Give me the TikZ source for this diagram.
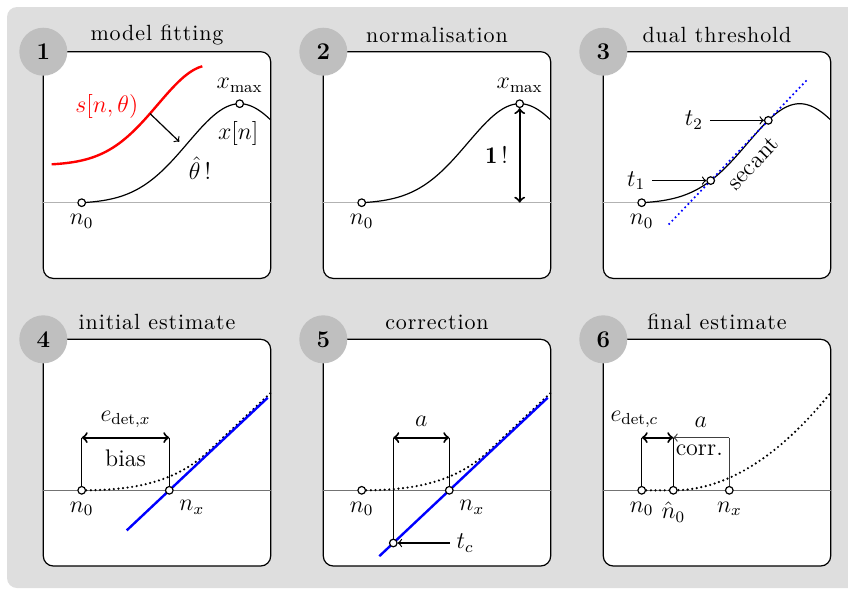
\documentclass[tikz,border=0pt]{standalone}
\usepackage{fontspec}
\usetikzlibrary{positioning, calc}
\newfontfamily\titlefont{lmroman10-regular.otf}[LetterSpace=4]

\tikzset{declare function={pulse(\u)=99*(exp(0-((\u-158)/73.54)*((\u-158)/73.54))-0.0099)/0.9901;}}

\newcommand\panelbase[1]{%
  \draw[panelbox] (0,0) rectangle (227.4,226.7);
  \draw[axis, #1] (0,151) -- (227.4,151);}
\newcommand\paneltop[3]{%
  \node[badge] (num#1) at (0,0) {#2};
  \node[heading] (title#1) at (113.7,-17) {#3};}

\begin{document}
\begin{tikzpicture}[x=0.5pt, y=-0.5pt,
    every node/.style={font=\fontsize{12}{14}\selectfont},
    backdrop/.style={fill=black!13, rounded corners=5pt},
    panelbox/.style={draw, fill=white, line width=0.6pt, rounded corners=5pt},
    axis/.style={line width=0.5pt},
    badge/.style={circle, fill=black!25, minimum size=24pt, inner sep=0pt, font=\fontsize{12}{14}\selectfont\bfseries},
    heading/.style={font=\titlefont\fontsize{11}{13}\selectfont},
    dot/.style={circle, draw, fill=white, line width=0.6pt, minimum size=3.8pt, inner sep=0pt},
    signal/.style={line width=0.6pt},
    model/.style={red, line width=1.2pt},
    trace/.style={line width=1.2pt, dash pattern=on 0pt off 2.3pt, line cap=round},
    secant/.style={blue, line width=1.2pt, dash pattern=on 0pt off 2.3pt, line cap=round},
    fitline/.style={blue, line width=1.2pt},
    stem/.style={line width=0.6pt},
    span/.style={<->, line width=1pt},
    pointer/.style={->, line width=0.6pt},
    corr/.style={->, line width=0.6pt, black!75}
]
    \useasboundingbox (0,0) rectangle (848,591);
    \begin{scope}
        \clip (0,0) rectangle (848,591);
        \fill[backdrop] (7,7) rectangle (870,588);
    \end{scope}

    \begin{scope}[shift={(43.3,51.7)}]
        \panelbase{black!30}
        \draw[signal] plot[domain=0:189, samples=90] ({38.4+\x},{151-pulse(\x)});
        \draw[model] plot[domain=0:150.6, samples=80] ({8.4+\x},{112.6-pulse(\x)});
        \node[dot] (p1n0) at (38.4,151) {};
        \node[dot] (p1max) at (196.4,52) {};
        \node[below=0pt of p1n0] (p1n0lab) {$n_0$};
        \node[above=0pt of p1max] (p1maxlab) {$x_{\max}$};
        \node[text=red] (p1slab) at (63.4,55) {$s[n,\theta)$};
        \node (p1xlab) at (195,81.7) {$x[n]$};
        \node (p1thlab) at (156.7,116.7) {$\hat{\theta}\,!$};
        \coordinate (p1from) at ({8.4+98.3},{112.6-pulse(98.3)});
        \coordinate (p1to) at (136,90);
        \draw[pointer] (p1from) -- (p1to);
        \paneltop{1}{1}{model fitting}
    \end{scope}

    \begin{scope}[shift={(323.3,51.7)}]
        \panelbase{black!30}
        \draw[signal] plot[domain=0:189, samples=90] ({38.4+\x},{151-pulse(\x)});
        \coordinate (p2foot) at (196.4,151);
        \node[dot] (p2n0) at (38.4,151) {};
        \node[dot] (p2max) at (196.4,52) {};
        \node[below=0pt of p2n0] (p2n0lab) {$n_0$};
        \node[above=0pt of p2max] (p2maxlab) {$x_{\max}$};
        \draw[span] (p2max) -- (p2foot);
        \node (p2one) at (173.4,103.3) {$\mathbf{1}\,!$};
        \paneltop{2}{2}{normalisation}
    \end{scope}

    \begin{scope}[shift={(603.3,51.7)}]
        \panelbase{black!30}
        \draw[signal] plot[domain=0:189, samples=90] ({38.4+\x},{151-pulse(\x)});
        \coordinate (p3c1) at ({38.4+69},{151-pulse(69)});
        \coordinate (p3c2) at ({38.4+126.6},{151-pulse(126.6)});
        \draw[secant] ($(p3c1)!-0.72!(p3c2)$) -- ($(p3c1)!1.7!(p3c2)$);
        \path (p3c1) -- (p3c2) node[midway, sloped, below=2pt] (p3seclab) {secant};
        \node[dot] (p3n0) at (38.4,151) {};
        \node[dot] (p3t1) at (p3c1) {};
        \node[dot] (p3t2) at (p3c2) {};
        \node[below=0pt of p3n0] (p3n0lab) {$n_0$};
        \node[left=27pt of p3t1] (p3t1lab) {$t_1$};
        \node[left=27pt of p3t2] (p3t2lab) {$t_2$};
        \draw[pointer] (p3t1lab) -- (p3t1);
        \draw[pointer] (p3t2lab) -- (p3t2);
        \paneltop{3}{3}{dual threshold}
    \end{scope}

    \begin{scope}[shift={(43.3,339.3)}]
        \panelbase{black!55}
        \coordinate (p4c0) at (38.4,151);
        \coordinate (p4cx) at (126,151);
        \coordinate (p4a) at (38.4,98.3);
        \coordinate (p4b) at (126,98.3);
        \draw[trace] (p4c0) .. controls (85,151) and (130,145.1) .. (165,112.2) -- (227.4,53.5);
        \draw[fitline] ($(p4cx)+(-42.6,40.1)$) -- ($(p4cx)+(98.4,-92.6)$);
        \draw[stem] (p4c0) -- (p4a);
        \draw[stem] (p4cx) -- (p4b);
        \draw[span] (p4a) -- (p4b);
        \node[dot] (p4n0) at (p4c0) {};
        \node[dot] (p4nx) at (p4cx) {};
        \node[below=0pt of p4n0] (p4n0lab) {$n_0$};
        \node[below right=0pt and 0pt of p4nx] (p4nxlab) {$n_x$};
        \node (p4elab) at (82.2,80) {$e_{\mathrm{det},x}$};
        \node (p4bias) at (82.2,118.5) {bias};
        \paneltop{4}{4}{initial estimate}
    \end{scope}

    \begin{scope}[shift={(323.3,339.3)}]
        \panelbase{black!55}
        \coordinate (p5c0) at (38.4,151);
        \coordinate (p5cx) at (126,151);
        \coordinate (p5cc) at (70,203.7);
        \coordinate (p5a) at (70,98.3);
        \coordinate (p5b) at (126,98.3);
        \draw[trace] (p5c0) .. controls (85,151) and (130,145.1) .. (165,112.2) -- (227.4,53.5);
        \draw[fitline] ($(p5cc)+(-14,13.2)$) -- ($(p5cx)+(98.4,-92.6)$);
        \draw[stem] (p5cc) -- (p5a);
        \draw[stem] (p5cx) -- (p5b);
        \draw[span] (p5a) -- (p5b);
        \node[dot] (p5n0) at (p5c0) {};
        \node[dot] (p5nx) at (p5cx) {};
        \node[dot] (p5tc) at (p5cc) {};
        \node[below=0pt of p5n0] (p5n0lab) {$n_0$};
        \node[below right=0pt and 0pt of p5nx] (p5nxlab) {$n_x$};
        \node (p5alab) at (98,82) {$a$};
        \node (p5tclab) at (141.7,203.7) {$t_c$};
        \draw[pointer] (p5tclab) -- (p5tc);
        \paneltop{5}{5}{correction}
    \end{scope}

    \begin{scope}[shift={(603.3,339.3)}]
        \panelbase{black!55}
        \coordinate (p6c0) at (38.4,151);
        \coordinate (p6ch) at (70,151);
        \coordinate (p6cx) at (126,151);
        \coordinate (p6a) at (38.4,98.3);
        \coordinate (p6h) at (70,98.3);
        \coordinate (p6b) at (126,98.3);
        \draw[trace] (p6c0) -- (p6ch) .. controls (122.1,151) and (174.7,118.5) .. (227.4,53.4);
        \draw[stem] (p6c0) -- (p6a);
        \draw[stem] (p6ch) -- (p6h);
        \draw[stem, black!75] (p6cx) -- (p6b);
        \draw[corr] (p6b) -- (p6h);
        \draw[span] (p6a) -- (p6h);
        \node[dot] (p6n0) at (p6c0) {};
        \node[dot] (p6nh) at (p6ch) {};
        \node[dot] (p6nx) at (p6cx) {};
        \node[below=0pt of p6n0] (p6n0lab) {$n_0$};
        \node[below=0pt of p6nh] (p6nhlab) {$\hat{n}_0$};
        \node[below=0pt of p6nx] (p6nxlab) {$n_x$};
        \node (p6elab) at (31,80) {$e_{\mathrm{det},c}$};
        \node (p6alab) at (97.5,83) {$a$};
        \node (p6corr) at (96,111) {corr.};
        \paneltop{6}{6}{final estimate}
    \end{scope}
\end{tikzpicture}
\end{document}
